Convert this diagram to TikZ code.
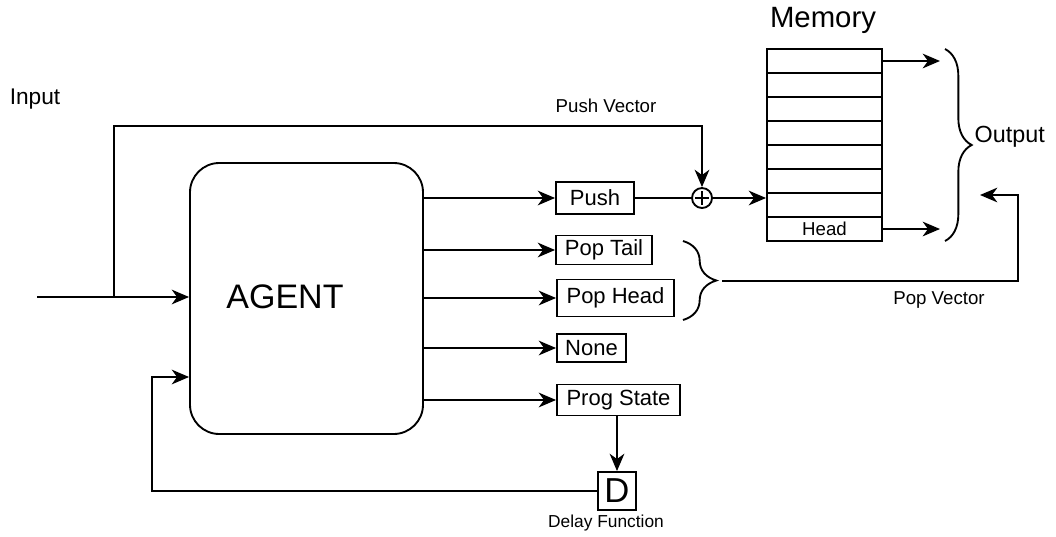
\documentclass[tikz,border=0pt]{standalone}
\usepackage{fontspec}
\setmainfont{Liberation Sans}
\usetikzlibrary{arrows.meta,decorations.pathreplacing}

\tikzset{
  box/.style={draw, line width=1.4pt, inner sep=1pt, font=\fontsize{16.5}{18}\selectfont},
  cell/.style={draw, line width=1.4pt, minimum width=86.25pt, minimum height=18pt, inner sep=0pt, font=\fontsize{14}{16}\selectfont},
  plus/.style={circle, draw, line width=1.4pt, minimum size=15pt, inner sep=0pt,
    path picture={\draw[line width=1.1pt] ([xshift=-5pt]path picture bounding box.center) -- ([xshift=5pt]path picture bounding box.center)
      ([yshift=-5pt]path picture bounding box.center) -- ([yshift=5pt]path picture bounding box.center);}},
  lbl/.style={font=\fontsize{14}{16}\selectfont},
  wire/.style={line width=1.4pt},
  brc/.style={line width=1.4pt, decorate, decoration={brace, amplitude=#1}}
}

\begin{document}
\begin{tikzpicture}[x=0.75pt,y=-0.75pt,>={Stealth[length=13pt,width=11pt,inset=4pt]}]
\useasboundingbox (0,0) rectangle (1056,536);

\node[draw, line width=1.4pt, rounded corners=22pt, minimum width=174.75pt, minimum height=203.25pt] (agent) at (306.5,298.5) {};
\node[font=\fontsize{25.5}{28}\selectfont] (agenttxt) at (285,297) {AGENT};

\node[box, minimum width=58.5pt, minimum height=24pt] (push) at (595,198) {Push};
\node[box, minimum width=72pt, minimum height=21.75pt] (poptail) at (604,250) {Pop Tail};
\node[box, minimum width=87.75pt, minimum height=27.75pt] (pophead) at (615.5,298) {Pop Head};
\node[box, minimum width=51.75pt, minimum height=21pt] (none) at (591.5,348) {None};
\node[box, minimum width=92.25pt, minimum height=23.25pt] (prog) at (618.5,400) {Prog State};
\node[box, minimum size=28.5pt, inner sep=0pt, font=\fontsize{26}{28}\selectfont] (delay) at (617,491) {D};
\node[plus] (plus) at (702,198) {};

\foreach \i/\t in {1/,2/,3/,4/,5/,6/,7/,8/Head}
  \node[cell] (m\i) at (824.5,{61+24*(\i-1)}) {\t};

\node[font=\fontsize{22}{24}\selectfont] (memlbl) at (823,20) {Memory};
\node[font=\fontsize{17}{19}\selectfont] (inlbl) at (35,99) {Input};
\node[font=\fontsize{17.5}{19}\selectfont, anchor=west] (outlbl) at (970,137) {Output};
\node[lbl] (pushvec) at (606,106) {Push Vector};
\node[lbl] (popvec) at (939,300) {Pop Vector};
\node[font=\fontsize{13}{15}\selectfont] (dlbl) at (606,523) {Delay Function};

\coordinate (in) at (37,297);
\coordinate (split) at (114,297);
\coordinate (pv) at (702,126);
\coordinate (fb) at (152,377);
\coordinate (outa) at (940,61);
\coordinate (outb) at (940,229);
\coordinate (popfrom) at (722,281);
\coordinate (popturn) at (1018,195);
\coordinate (popto) at (980,195);

\draw[wire,->] (in) -- (in -| agent.west);
\draw[wire,->] (split) |- (pv) -- (plus.north);
\draw[wire,->] (push.west -| agent.east) -- (push.west);
\draw[wire,->] (poptail.west -| agent.east) -- (poptail.west);
\draw[wire,->] (pophead.west -| agent.east) -- (pophead.west);
\draw[wire,->] (none.west -| agent.east) -- (none.west);
\draw[wire,->] (prog.west -| agent.east) -- (prog.west);
\draw[wire,->] (delay.north |- prog.south) -- (delay.north);
\draw[wire,->] (delay.west) -| (fb) -- (fb -| agent.west);
\draw[wire] (push.east) -- (plus.west);
\draw[wire,->] (plus.east) -- (plus -| m7.west);
\draw[wire,->] (m1.east) -- (outa);
\draw[wire,->] (m8.east) -- (outb);
\draw[brc=20pt] (945,49) -- (945,241);
\draw[brc=25pt] (683,241) -- (683,320);
\draw[wire,->] (popfrom) -| (popturn) -- (popto);
\end{tikzpicture}
\end{document}
